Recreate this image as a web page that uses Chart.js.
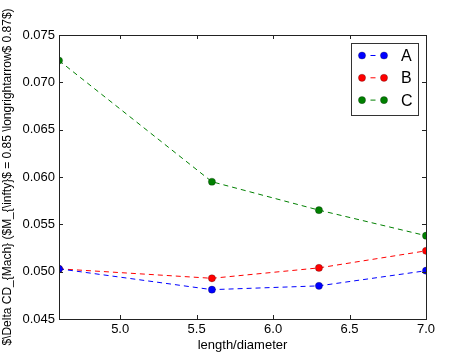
<!DOCTYPE html>
<html>
<head>
<meta charset="utf-8">
<script src="https://cdn.jsdelivr.net/npm/chart.js@4/dist/chart.umd.min.js"></script>
<style>
html,body{margin:0;padding:0;background:#fff;}
#wrap{width:474px;height:355px;}
</style>
</head>
<body>
<div id="wrap"><canvas id="c" width="474" height="355"></canvas></div>
<script>
const lengthDiameter = [4.6, 5.6, 6.3, 7.0];
const seriesA = [0.0503, 0.0481, 0.0485, 0.0501];
const seriesB = [0.0503, 0.0493, 0.0504, 0.0522];
const seriesC = [0.0723, 0.0595, 0.0565, 0.0538];
const seriesNames = ['A', 'B', 'C'];
const seriesColors = ['#0000ff', '#ff0000', '#008000'];
const xTicks = [5.0, 5.5, 6.0, 6.5, 7.0];
const yTicks = [0.045, 0.050, 0.055, 0.060, 0.065, 0.070, 0.075];
const xTitle = 'length/diameter';
const yTitle = '$\\Delta CD_{Mach} ($M_{\\infty}$ = 0.85 \\longrightarrow$ 0.87$)';

const FONT = '"Liberation Sans", Arial, sans-serif';

function mkSet(name, vals, color) {
  return {
    label: name,
    data: lengthDiameter.map((x, i) => ({x: x, y: vals[i]})),
    borderColor: color,
    backgroundColor: color,
    borderWidth: 1,
    borderDash: [5, 4],
    pointRadius: 3.6,
    pointHoverRadius: 3.6,
    pointBackgroundColor: color,
    pointBorderColor: 'rgba(0,0,0,0.5)',
    pointBorderWidth: 0.5,
    tension: 0,
    clip: 0
  };
}

const framePlugin = {
  id: 'frame',
  afterDatasetsDraw(chart) {
    const ctx = chart.ctx, a = chart.chartArea;
    const xs = chart.scales.x, ys = chart.scales.y;
    ctx.save();
    ctx.strokeStyle = '#222';
    ctx.lineWidth = 1;
    ctx.beginPath();
    const L = 4;
    xTicks.forEach(v => {
      const px = Math.round(xs.getPixelForValue(v)) + 0.5;
      ctx.moveTo(px, a.bottom); ctx.lineTo(px, a.bottom - L);
      ctx.moveTo(px, a.top); ctx.lineTo(px, a.top + L);
    });
    yTicks.forEach(v => {
      const py = Math.round(ys.getPixelForValue(v)) + 0.5;
      ctx.moveTo(a.left, py); ctx.lineTo(a.left + L, py);
      ctx.moveTo(a.right, py); ctx.lineTo(a.right - L, py);
    });
    ctx.stroke();
    ctx.strokeRect(Math.round(a.left) + 0.5, Math.round(a.top) + 0.5,
                   Math.round(a.right - a.left), Math.round(a.bottom - a.top));
    ctx.restore();
  },
  afterDraw(chart) {
    const ctx = chart.ctx;
    const bx = 351.5, by = 43.5, bw = 67, bh = 72;
    ctx.save();
    ctx.fillStyle = '#fff';
    ctx.fillRect(bx, by, bw, bh);
    ctx.strokeStyle = '#333';
    ctx.lineWidth = 1;
    ctx.strokeRect(bx, by, bw, bh);
    chart.data.datasets.forEach((ds, i) => {
      const y = 55.5 + i * 22.3;
      ctx.strokeStyle = ds.borderColor;
      ctx.lineWidth = 1;
      ctx.beginPath();
      ctx.moveTo(370.5, y); ctx.lineTo(375.5, y);
      ctx.stroke();
      [362, 384].forEach(px => {
        ctx.beginPath();
        ctx.arc(px, y, 3.6, 0, Math.PI * 2);
        ctx.fillStyle = ds.backgroundColor;
        ctx.fill();
        ctx.strokeStyle = 'rgba(0,0,0,0.5)';
        ctx.lineWidth = 0.5;
        ctx.stroke();
      });
      ctx.fillStyle = '#000';
      ctx.font = '16px ' + FONT;
      ctx.textBaseline = 'middle';
      ctx.textAlign = 'left';
      ctx.fillText(ds.label, 401, y + 1);
    });
    ctx.restore();
  }
};

new Chart(document.getElementById('c'), {
  type: 'line',
  data: {
    datasets: [
      mkSet(seriesNames[0], seriesA, seriesColors[0]),
      mkSet(seriesNames[1], seriesB, seriesColors[1]),
      mkSet(seriesNames[2], seriesC, seriesColors[2])
    ]
  },
  options: {
    responsive: false,
    animation: false,
    devicePixelRatio: 1,
    layout: {padding: {left: 0, right: 48, top: 35, bottom: 0}},
    plugins: {legend: {display: false}, tooltip: {enabled: false}},
    scales: {
      x: {
        type: 'linear',
        min: 4.6, max: 7.0,
        grid: {display: false, drawTicks: false},
        border: {display: false},
        afterBuildTicks: s => { s.ticks = xTicks.map(v => ({value: v})); },
        afterFit: s => { s.height = 36; },
        ticks: {
          color: '#000', padding: 3,
          font: {family: FONT, size: 13},
          maxRotation: 0, autoSkip: false,
          callback: v => Number(v).toFixed(1)
        },
        title: {display: true, text: xTitle, color: '#000', font: {family: FONT, size: 13}, padding: {top: 0, bottom: 2}}
      },
      y: {
        type: 'linear',
        min: 0.045, max: 0.075,
        grid: {display: false, drawTicks: false},
        border: {display: false},
        afterBuildTicks: s => { s.ticks = yTicks.map(v => ({value: v})); },
        afterFit: s => { s.width = 59; },
        ticks: {
          color: '#000', padding: 4,
          font: {family: FONT, size: 13},
          autoSkip: false,
          callback: v => Number(v).toFixed(3)
        },
        title: {display: true, text: yTitle, color: '#000', font: {family: FONT, size: 12}, padding: {top: 0, bottom: 0}}
      }
    }
  },
  plugins: [framePlugin]
});
</script>
</body>
</html>
